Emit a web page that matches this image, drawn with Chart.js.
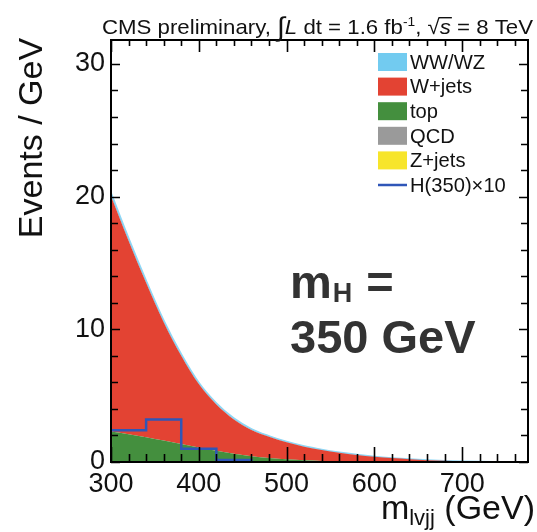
<!DOCTYPE html>
<html>
<head>
<meta charset="utf-8">
<script src="https://cdn.jsdelivr.net/npm/chart.js@4/dist/chart.umd.min.js"></script>
<style>
  html, body { margin: 0; padding: 0; background: #ffffff; }
  #wrap { width: 537px; height: 532px; }
</style>
</head>
<body>
<div id="wrap"><canvas id="c" width="537" height="532"></canvas></div>
<script>
// m(lvjj) sampling points, GeV
const massPoints = [300, 320, 340, 360, 380, 400, 420, 440, 460, 480, 500, 520, 540, 560, 580, 600, 620, 640, 660, 680, 700, 720, 740, 760, 775];
// Background components, events / GeV
const wwwz   = [0.25, 0.22, 0.20, 0.17, 0.15, 0.13, 0.11, 0.09, 0.08, 0.07, 0.06, 0.05, 0.04, 0.03, 0.025, 0.02, 0.015, 0.01, 0.01, 0.005, 0.005, 0, 0, 0, 0];
const wjets  = [17.75, 14.58, 11.63, 8.91, 6.64, 4.77, 3.5, 2.59, 1.98, 1.6, 1.28, 1.02, 0.82, 0.65, 0.505, 0.385, 0.29, 0.21, 0.14, 0.095, 0.055, 0.035, 0.02, 0.008, 0];
const topBkg = [2.3, 2.1, 1.87, 1.62, 1.36, 1.1, 0.84, 0.62, 0.44, 0.3, 0.2, 0.13, 0.08, 0.05, 0.03, 0.015, 0.005, 0, 0, 0, 0, 0, 0, 0, 0];
const qcd    = [0, 0, 0, 0, 0, 0, 0, 0, 0, 0, 0, 0, 0, 0, 0, 0, 0, 0, 0, 0, 0, 0, 0, 0, 0];
const zjets  = [0, 0, 0, 0, 0, 0, 0, 0, 0, 0, 0, 0, 0, 0, 0, 0, 0, 0, 0, 0, 0, 0, 0, 0, 0];
// Signal histogram (x10): bin low edges and contents
const higgsEdges = [300, 340, 380, 420, 460];
const higgsX10   = [2.4, 3.2, 1.0, 0.15, 0];
// Axis ticks
const xTicks = [300, 400, 500, 600, 700];
const yTicks = [0, 10, 20, 30];

const FONT = '"Liberation Sans", Arial, Helvetica, sans-serif';
const C = {
  wwwz: '#72cbf0',
  wjets: '#e34333',
  top: '#448f3e',
  qcd: '#9a9a9a',
  zjets: '#f7e52b',
  higgs: '#2f56b8'
};

const pts = arr => massPoints.map((m, i) => ({ x: m, y: arr[i] }));

const bgBase = {
  type: 'line',
  pointRadius: 0,
  borderWidth: 0,
  cubicInterpolationMode: 'monotone',
  stack: 'bkg'
};

const datasets = [
  {
    type: 'line', label: 'H(350)×10',
    data: higgsEdges.map((m, i) => ({ x: m, y: higgsX10[i] })),
    stepped: true, borderColor: C.higgs, borderWidth: 2.5,
    pointRadius: 0, fill: false, stack: 'signal', legendKind: 'line', legendRank: 5
  },
  Object.assign({}, bgBase, { label: 'top', data: pts(topBkg), backgroundColor: C.top, borderColor: C.top, fill: 'origin', legendRank: 2 }),
  Object.assign({}, bgBase, { label: 'QCD', data: pts(qcd), backgroundColor: C.qcd, borderColor: C.qcd, fill: '-1', legendRank: 3 }),
  Object.assign({}, bgBase, { label: 'Z+jets', data: pts(zjets), backgroundColor: C.zjets, borderColor: C.zjets, fill: '-1', legendRank: 4 }),
  Object.assign({}, bgBase, { label: 'W+jets', data: pts(wjets), backgroundColor: C.wjets, borderColor: C.wjets, fill: '-1', legendRank: 1 }),
  Object.assign({}, bgBase, { label: 'WW/WZ', data: pts(wwwz), backgroundColor: C.wwwz, borderColor: '#8fd6f4', borderWidth: 1.5, fill: '-1', legendRank: 0 })
];

// White page background
const background = {
  id: 'background',
  beforeDraw(chart) {
    const ctx = chart.ctx;
    ctx.save();
    ctx.fillStyle = '#ffffff';
    ctx.fillRect(0, 0, chart.width, chart.height);
    ctx.restore();
  }
};

// Frame with inward major/minor ticks on all four sides
const frameTicks = {
  id: 'frameTicks',
  afterDatasetsDraw(chart) {
    const { ctx, chartArea: a, scales: { x, y } } = chart;
    ctx.save();
    ctx.strokeStyle = '#000';
    ctx.lineWidth = 1.6;
    for (let v = 300; v <= 775; v += 20) {
      const px = Math.round(x.getPixelForValue(v)) + 0.5;
      const major = v % 100 === 0;
      const lb = major ? 15 : 8;
      const lt = major ? 12 : 6;
      ctx.beginPath();
      ctx.moveTo(px, a.bottom); ctx.lineTo(px, a.bottom - lb);
      ctx.moveTo(px, a.top); ctx.lineTo(px, a.top + lt);
      ctx.stroke();
    }
    for (let v = 0; v <= 31; v += 2) {
      const py = Math.round(y.getPixelForValue(v)) + 0.5;
      const major = v % 10 === 0;
      const l = major ? 9 : 7;
      ctx.beginPath();
      ctx.moveTo(a.left, py); ctx.lineTo(a.left + l, py);
      ctx.moveTo(a.right, py); ctx.lineTo(a.right - l, py);
      ctx.stroke();
    }
    ctx.lineWidth = 2;
    ctx.strokeRect(a.left, a.top, a.right - a.left, a.bottom - a.top);
    ctx.restore();
  }
};

// Legend box in the upper right of the plot
const stackLegend = {
  id: 'stackLegend',
  afterDraw(chart) {
    const ctx = chart.ctx;
    const items = chart.data.datasets.slice().sort((p, q) => p.legendRank - q.legendRank);
    ctx.save();
    ctx.font = '21px ' + FONT;
    ctx.textBaseline = 'middle';
    ctx.fillStyle = '#111';
    const x0 = 378, w = 29, h = 18, y0 = 62, dy = 24.6;
    items.forEach((d, i) => {
      const cy = y0 + i * dy;
      if (d.legendKind === 'line') {
        ctx.strokeStyle = d.borderColor;
        ctx.lineWidth = 2.5;
        ctx.beginPath();
        ctx.moveTo(x0, cy); ctx.lineTo(x0 + w, cy);
        ctx.stroke();
      } else {
        ctx.fillStyle = d.backgroundColor;
        ctx.fillRect(x0, cy - h / 2, w, h);
      }
      ctx.fillStyle = '#111';
      ctx.save();
      ctx.translate(x0 + w + 3, cy + 1);
      ctx.scale(0.96, 1);
      ctx.fillText(d.label, 0, 0);
      ctx.restore();
    });
    ctx.restore();
  }
};

// Header, axis titles and mass annotation
const texts = {
  id: 'texts',
  afterDraw(chart) {
    const ctx = chart.ctx;
    ctx.save();
    ctx.fillStyle = '#111';
    ctx.textBaseline = 'alphabetic';

    // Header line
    const parts = [
      { t: 'CMS preliminary, ', f: '21px ' + FONT, dy: 0 },
      { t: '\u222B', f: '27px ' + FONT, dy: 2 },
      { t: 'L', f: 'italic 21px ' + FONT, dy: 0 },
      { t: ' dt = 1.6 fb', f: '21px ' + FONT, dy: 0 },
      { t: '-1', f: '13px ' + FONT, dy: -8 },
      { t: ', ', f: '21px ' + FONT, dy: 0 },
      { t: '\u221A', f: '21px ' + FONT, dy: 0 },
      { t: 's', f: 'italic 21px ' + FONT, dy: 0, over: true },
      { t: ' = 8 TeV', f: '21px ' + FONT, dy: 0 }
    ];
    let total = 0;
    parts.forEach(p => { ctx.font = p.f; p.w = ctx.measureText(p.t).width; total += p.w; });
    const sx = 431 / total;
    ctx.save();
    ctx.translate(102, 34);
    ctx.scale(sx, 1);
    let cx = 0;
    parts.forEach(p => {
      ctx.font = p.f;
      ctx.fillText(p.t, cx, p.dy);
      if (p.over) {
        ctx.fillRect(cx - 1, -17, p.w + 2, 1.4);
      }
      cx += p.w;
    });
    ctx.restore();

    // y title
    ctx.save();
    ctx.translate(42, 138);
    ctx.rotate(-Math.PI / 2);
    ctx.font = '34px ' + FONT;
    ctx.textAlign = 'center';
    ctx.fillText('Events / GeV', 0, 0);
    ctx.restore();

    // x title, right aligned
    ctx.font = '34px ' + FONT;
    const wM = ctx.measureText('m').width;
    const wG = ctx.measureText(' (GeV)').width;
    ctx.font = '22px ' + FONT;
    const wS = ctx.measureText('lvjj').width;
    let xt = 535 - (wM + wS + wG);
    ctx.font = '34px ' + FONT;
    ctx.fillText('m', xt, 519); xt += wM;
    ctx.font = '22px ' + FONT;
    ctx.fillText('lvjj', xt, 525); xt += wS;
    ctx.font = '34px ' + FONT;
    ctx.fillText(' (GeV)', xt, 519);

    // mass annotation
    ctx.fillStyle = '#333333';
    ctx.font = 'bold 47px ' + FONT;
    ctx.fillText('m', 290, 298);
    const wm = ctx.measureText('m').width;
    ctx.font = 'bold 27px ' + FONT;
    ctx.fillText('H', 290 + wm + 1, 302);
    const wh = ctx.measureText('H').width;
    ctx.font = 'bold 47px ' + FONT;
    ctx.fillText(' =', 290 + wm + wh + 2, 298);
    ctx.fillText('350 GeV', 290, 353);
    ctx.restore();
  }
};

new Chart(document.getElementById('c'), {
  type: 'line',
  data: { datasets },
  options: {
    responsive: false,
    animation: false,
    devicePixelRatio: 1,
    layout: { padding: { top: 40, right: 9, left: 0, bottom: 0 } },
    plugins: { legend: { display: false }, tooltip: { enabled: false } },
    scales: {
      x: {
        type: 'linear', min: 300, max: 775,
        grid: { display: false, drawTicks: false },
        border: { display: false },
        afterFit: s => { s.height = 70; },
        afterBuildTicks: s => { s.ticks = xTicks.map(v => ({ value: v })); },
        ticks: {
          color: '#111', padding: 6, maxRotation: 0, autoSkip: false,
          font: { family: FONT, size: 27 },
          callback: v => String(v)
        }
      },
      y: {
        type: 'linear', min: 0, max: 31.8, stacked: true,
        grid: { display: false, drawTicks: false },
        border: { display: false },
        afterFit: s => { s.width = 111; },
        afterBuildTicks: s => { s.ticks = yTicks.map(v => ({ value: v })); },
        ticks: {
          color: '#111', padding: 6, autoSkip: false,
          font: { family: FONT, size: 27 },
          callback: v => String(v)
        }
      }
    }
  },
  plugins: [background, frameTicks, stackLegend, texts]
});
</script>
</body>
</html>
